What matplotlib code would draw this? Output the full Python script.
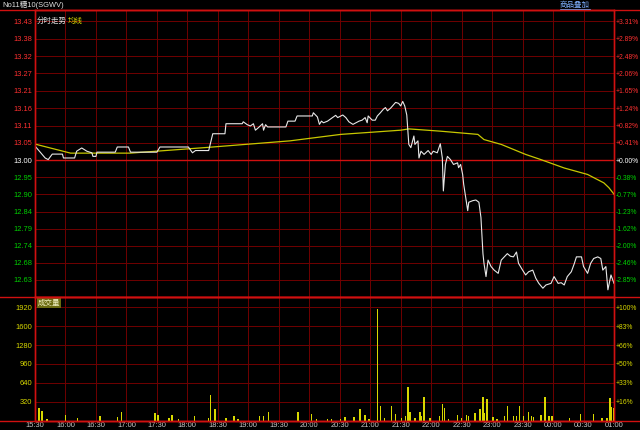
import matplotlib
matplotlib.use("Agg")
import matplotlib.pyplot as plt
from matplotlib.lines import Line2D

NUM_FONT = ['Liberation Sans', 'DejaVu Sans', 'Noto Sans CJK SC']
CJK_FONT = ['Noto Sans CJK SC', 'DejaVu Sans']
plt.rcParams['font.family'] = NUM_FONT

# 分时价格 (分钟, 价格)
price_min = [0, 10, 13, 17, 27, 28, 39, 41, 46, 51, 56, 57, 60, 61, 79, 81, 92, 94, 120, 123,
             151, 155, 158, 171, 175, 187, 188, 204, 205, 209, 212, 215, 217, 220, 224, 225,
             227, 229, 247, 249, 256, 258, 273, 274, 278, 280, 282, 284, 288, 293, 296, 298,
             303, 306, 309, 313, 316, 319, 322, 325, 327, 328, 332, 335, 337, 340, 343, 345,
             347, 350, 352, 355, 358, 360, 362, 364, 366, 368, 370, 373, 374, 377, 378, 380,
             383, 387, 390, 392, 396, 399, 401, 402, 404, 406, 409, 412, 416, 417, 419, 421,
             422, 424, 426, 427, 431, 434, 437, 439, 441, 442, 444, 446, 449, 452, 456, 459,
             462, 465, 468, 471, 474, 476, 480, 483, 486, 490, 493, 496, 500, 503, 508, 511,
             515, 518, 521, 524, 528, 531, 533, 538, 540, 544, 547, 550, 554, 557, 559, 562,
             564, 567, 570]
price_val = [13.044, 13.007, 13.002, 13.019, 13.019, 13.007, 13.007, 13.028, 13.038, 13.028,
             13.023, 13.012, 13.012, 13.025, 13.025, 13.041, 13.041, 13.025, 13.025, 13.041,
             13.041, 13.023, 13.030, 13.030, 13.082, 13.082, 13.113, 13.113, 13.119, 13.110,
             13.106, 13.113, 13.093, 13.101, 13.113, 13.093, 13.110, 13.103, 13.103, 13.121,
             13.121, 13.137, 13.137, 13.147, 13.134, 13.111, 13.121, 13.116, 13.121, 13.132,
             13.139, 13.132, 13.140, 13.132, 13.119, 13.111, 13.116, 13.121, 13.124, 13.132,
             13.116, 13.137, 13.124, 13.124, 13.137, 13.147, 13.158, 13.163, 13.153, 13.161,
             13.168, 13.179, 13.176, 13.168, 13.182, 13.168, 13.140, 13.049, 13.039, 13.075,
             13.049, 13.060, 13.007, 13.028, 13.018, 13.030, 13.018, 13.028, 13.023, 13.051,
             13.007, 12.905, 12.987, 13.012, 13.002, 12.987, 12.992, 12.977, 12.987, 12.956,
             12.926, 12.885, 12.844, 12.870, 12.875, 12.877, 12.870, 12.823, 12.711, 12.681,
             12.640, 12.691, 12.671, 12.660, 12.650, 12.691, 12.701, 12.711, 12.703, 12.701,
             12.716, 12.681, 12.660, 12.645, 12.655, 12.660, 12.635, 12.619, 12.604, 12.614,
             12.619, 12.640, 12.619, 12.621, 12.614, 12.640, 12.655, 12.681, 12.701, 12.701,
             12.671, 12.650, 12.681, 12.696, 12.701, 12.696, 12.660, 12.671, 12.599, 12.645,
             12.619]

# 均线
avg_min = [0, 35, 94, 171, 251, 301, 360, 368, 399, 436, 442, 459, 483, 498, 521, 544, 560, 565, 570]
avg_val = [13.050, 13.022, 13.022, 13.040, 13.060, 13.080, 13.093, 13.097, 13.090, 13.080,
           13.064, 13.049, 13.018, 13.002, 12.976, 12.956, 12.930, 12.915, 12.895]

# 成交量
vol_min = [0, 4, 7, 12, 30, 42, 64, 81, 85, 118, 121, 132, 135, 141, 157, 171, 173, 177, 188,
           196, 200, 221, 225, 230, 259, 272, 277, 288, 292, 301, 305, 314, 320, 325, 329, 337,
           340, 344, 351, 355, 361, 365, 367, 369, 374, 379, 380, 383, 389, 398, 401, 403, 407,
           416, 420, 425, 427, 433, 438, 441, 442, 445, 451, 455, 462, 465, 471, 474, 477, 481,
           486, 489, 491, 498, 502, 506, 509, 526, 537, 550, 558, 563, 566, 567, 570]
vol_val = [107, 220, 164, 28, 96, 40, 79, 51, 147, 124, 96, 40, 85, 28, 73, 45, 440, 198, 40,
           79, 28, 68, 79, 141, 147, 107, 22, 28, 22, 28, 56, 56, 198, 96, 28, 1890,
           248, 40, 248, 107, 40, 68, 576, 152, 34, 141, 68, 390, 34, 79, 282, 209, 28,
           96, 40, 90, 79, 124, 198, 406, 124, 361, 56, 28, 79, 248, 68, 68, 248, 68,
           152, 79, 56, 96, 406, 79, 68, 34, 107, 113, 34, 40, 378, 237, 209]

y_ticks_up = ['13.00', '13.05', '13.11', '13.16', '13.21', '13.27', '13.32', '13.38', '13.43']
y_ticks_dn = ['12.95', '12.90', '12.84', '12.79', '12.74', '12.68', '12.63']
pct_up = ['+0.00%', '+0.41%', '+0.82%', '+1.24%', '+1.65%', '+2.06%', '+2.48%', '+2.89%', '+3.31%']
pct_dn = ['-0.38%', '-0.77%', '-1.23%', '-1.62%', '-2.00%', '-2.46%', '-2.85%']
vol_ticks = [320, 640, 960, 1280, 1600, 1920]
vol_pct = ['+16%', '+33%', '+50%', '+66%', '+83%', '+100%']
time_labels = ['15:30', '16:00', '16:30', '17:00', '17:30', '18:00', '18:30', '19:00', '19:30',
               '20:00', '20:30', '21:00', '21:30', '22:00', '22:30', '23:00', '23:30', '00:00',
               '00:30', '01:00']

BG = 'black'
BORDER = '#d01010'
GRID = '#700000'
RED_TXT = '#ff3030'
GREEN_TXT = '#00d000'
YEL = '#d8d800'
FS = 5.4
FS_R = 4.9

fig = plt.figure(figsize=(6.4, 4.3), dpi=100, facecolor=BG)
W, H = 640, 430
left, right = 35 / W, 614 / W
ax = fig.add_axes([left, 1 - 297 / H, right - left, (297 - 10) / H], facecolor=BG)
axv = fig.add_axes([left, 1 - 420.5 / H, right - left, (420.5 - 297) / H], facecolor=BG)

step_up, step_dn = 0.05375, 0.0529
up_pos = [13 + i * step_up for i in range(len(y_ticks_up))]
dn_pos = [13 - (i + 1) * step_dn for i in range(len(y_ticks_dn))]

xticks = [30 * i for i in range(len(time_labels))]

# 价格面板
ax.set_xlim(0, 570)
ax.set_ylim(13 - 8 * step_dn, 13 + 8.65 * step_up)
for p in up_pos[1:] + dn_pos:
    ax.axhline(p, color=GRID, lw=0.7, zorder=0)
for x in xticks:
    ax.axvline(x, color=GRID, lw=0.7, zorder=0)
ax.axhline(13, color=BORDER, lw=1.0, zorder=1)
ax.plot(avg_min, avg_val, color='#c8c800', lw=0.9, zorder=3)
ax.plot(price_min, price_val, color='#e8e8e8', lw=0.8, zorder=4)

yt = up_pos + dn_pos
ax.set_yticks(yt)
ax.set_yticklabels(y_ticks_up + y_ticks_dn)
ax.tick_params(axis='y', length=0, pad=2, labelsize=FS)
for i, lab in enumerate(ax.get_yticklabels()):
    lab.set_color('white' if i == 0 else (RED_TXT if i < len(y_ticks_up) else GREEN_TXT))
ax.set_xticks([])

ax2 = ax.twinx()
ax2.set_ylim(ax.get_ylim())
ax2.set_yticks(yt)
ax2.set_yticklabels(pct_up + pct_dn)
ax2.tick_params(axis='y', length=0, pad=1.5, labelsize=FS_R)
for i, lab in enumerate(ax2.get_yticklabels()):
    lab.set_color('white' if i == 0 else (RED_TXT if i < len(pct_up) else GREEN_TXT))

for a in (ax, ax2):
    for s in a.spines.values():
        s.set_color(BORDER)
        s.set_linewidth(1.0)

ax.text(0.003, 0.975, '分时走势', transform=ax.transAxes, color='#e0e0e0', fontsize=FS,
        va='top', ha='left', family=CJK_FONT)
ax.text(0.057, 0.975, '均线', transform=ax.transAxes, color=YEL, fontsize=FS,
        va='top', ha='left', family=CJK_FONT)

# 成交量面板
axv.set_xlim(0, 570)
axv.set_ylim(0, 2094)
for v in vol_ticks:
    axv.axhline(v, color=GRID, lw=0.7, zorder=0)
for x in xticks:
    axv.axvline(x, color=GRID, lw=0.7, zorder=0)
axv.bar(vol_min, vol_val, width=1.4, color=YEL, linewidth=0, antialiased=False, zorder=3)
axv.set_yticks(vol_ticks)
axv.set_yticklabels([str(v) for v in vol_ticks])
axv.tick_params(axis='y', length=0, pad=2, labelsize=FS, colors=YEL)
axv.set_xticks(xticks)
axv.set_xticklabels(time_labels)
axv.tick_params(axis='x', length=0, pad=1, labelsize=FS, colors='#c8c8c8')
axv2 = axv.twinx()
axv2.set_ylim(axv.get_ylim())
axv2.set_yticks(vol_ticks)
axv2.set_yticklabels(vol_pct)
axv2.tick_params(axis='y', length=0, pad=1.5, labelsize=FS_R, colors=YEL)
for a in (axv, axv2):
    for s in a.spines.values():
        s.set_color(BORDER)
        s.set_linewidth(1.0)
axv.text(0.004, 0.985, '成交量', transform=axv.transAxes, color='#f0f0c0', fontsize=FS,
         va='top', ha='left', family=CJK_FONT,
         bbox=dict(boxstyle='square,pad=0.1', fc='#6a6a10', ec='none'))

# 整幅横线与标题栏
for yy in (10, 297, 420.5):
    fig.add_artist(Line2D([0, 1], [1 - yy / H, 1 - yy / H], color=BORDER, lw=1.0))
fig.text(2 / W, 1 - 5 / H, 'No11糖10(SGWV)', color='#e0e0e0', fontsize=FS, va='center',
         ha='left', family=NUM_FONT)
fig.text(560 / W, 1 - 5 / H, '商品叠加', color='#7fb0ff', fontsize=FS, va='center',
         ha='left', family=CJK_FONT)
fig.add_artist(Line2D([560 / W, 590 / W], [1 - 9 / H, 1 - 9 / H], color='#7fb0ff', lw=0.5))

fig.savefig('out.png', dpi=100, facecolor=BG)
